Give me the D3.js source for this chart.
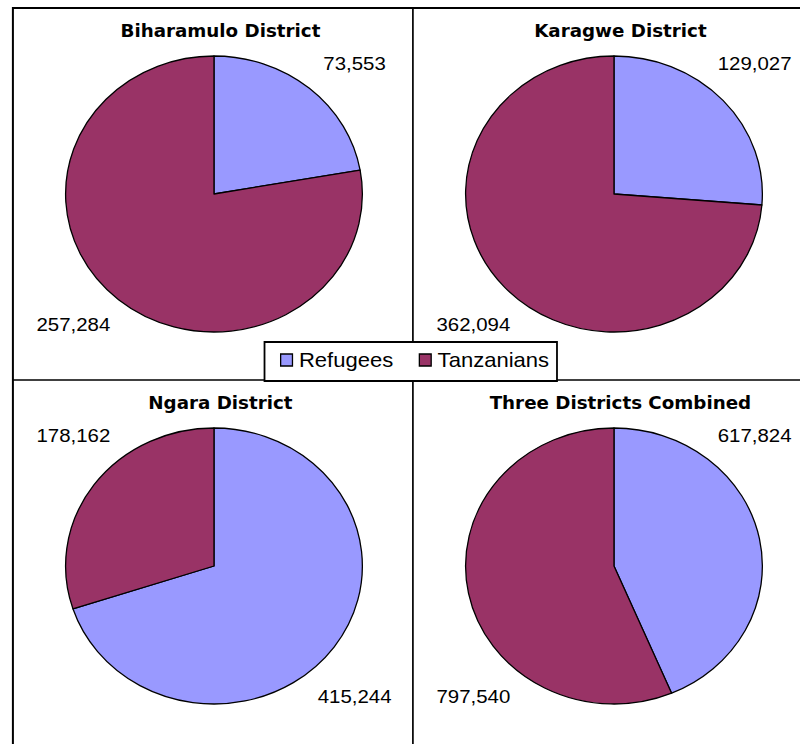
<!DOCTYPE html>
<html>
<head>
<meta charset="utf-8">
<script src="https://cdn.jsdelivr.net/npm/d3@7"></script>
<style>
  body { margin: 0; background: #fff; }
  svg { display: block; }
  text { fill: #000; }
</style>
</head>
<body>
<svg id="chart"></svg>
<script>
// values
var districts = ["Biharamulo District", "Karagwe District", "Ngara District", "Three Districts Combined"];
var seriesNames = ["Refugees", "Tanzanians"];
var refugees = [73553, 129027, 415244, 617824];
var tanzanians = [257284, 362094, 178162, 797540];
var seriesColors = ["#9999FF", "#993366"];

var width = 800, height = 744;
// the picture is a square chart stretched wide, so draw in 744 units and stretch
var sx = width / 744;

var svg = d3.select("#chart")
    .attr("width", width)
    .attr("height", height);

var g = svg.append("g")
    .attr("transform", "scale(" + sx + ",1)");

// 2x2 grid of square panels
var col = d3.scaleBand().domain([0, 1]).range([12, 756]);
var row = d3.scaleBand().domain([0, 1]).range([8, 752]);
var panel = col.bandwidth();

var r = 138;
var pie = d3.pie().sort(null).value(function(d) { return d.value; });
var arc = d3.arc().innerRadius(0).outerRadius(r);
var labelArc = d3.arc().innerRadius(r * 1.34).outerRadius(r * 1.34);
var fmt = d3.format(",");

// frame lines
g.append("rect")
    .attr("x", col(0)).attr("y", row(0))
    .attr("width", panel * 2).attr("height", panel * 2)
    .attr("fill", "none").attr("stroke", "#000").attr("stroke-width", 2)
    .attr("vector-effect", "non-scaling-stroke");
g.append("line")
    .attr("x1", col(1)).attr("x2", col(1))
    .attr("y1", row(0)).attr("y2", row(1) + panel)
    .attr("stroke", "#000").attr("stroke-width", 1.7)
    .attr("vector-effect", "non-scaling-stroke");
g.append("line")
    .attr("x1", col(0)).attr("x2", col(1) + panel)
    .attr("y1", row(1)).attr("y2", row(1))
    .attr("stroke", "#000").attr("stroke-width", 1.7)
    .attr("vector-effect", "non-scaling-stroke");

districts.forEach(function(name, i) {
  var x0 = col(i % 2), y0 = row(Math.floor(i / 2));
  var cx = x0 + 187, cy = y0 + 186;
  var data = [
    {key: seriesNames[0], value: refugees[i], color: seriesColors[0]},
    {key: seriesNames[1], value: tanzanians[i], color: seriesColors[1]}
  ];

  var cell = g.append("g").attr("class", "panel");

  cell.append("text")
      .attr("x", x0 + 193)
      .attr("y", y0 + 29)
      .attr("text-anchor", "middle")
      .style("font-family", "'DejaVu Sans', Verdana, sans-serif")
      .style("font-weight", "bold")
      .style("font-size", "17px")
      .text(name);

  var pieG = cell.append("g")
      .attr("transform", "translate(" + cx + "," + cy + ")");

  var arcs = pie(data);

  pieG.selectAll("path")
      .data(arcs)
    .enter().append("path")
      .attr("d", arc)
      .attr("fill", function(d) { return d.data.color; })
      .attr("stroke", "#000")
      .attr("stroke-width", 1.3)
      .attr("stroke-linejoin", "round")
      .attr("vector-effect", "non-scaling-stroke");

  // labels sit on the diagonal of the quadrant that holds the slice middle
  pieG.selectAll(".label")
      .data(arcs)
    .enter().append("text")
      .attr("class", "label")
      .attr("transform", function(d) {
        var mid = (d.startAngle + d.endAngle) / 2;
        var a = Math.floor(mid / (Math.PI / 2)) * Math.PI / 2 + Math.PI / 4;
        return "translate(" + labelArc.centroid({startAngle: a, endAngle: a}) + ")";
      })
      .attr("text-anchor", "middle")
      .attr("dy", "0.35em")
      .style("font-family", "'Liberation Sans', Arial, sans-serif")
      .style("font-size", "19px")
      .text(function(d) { return fmt(d.data.value); });
});

// legend across the middle
var legX = d3.scaleBand().domain(seriesNames).range([261, 519]);
var legend = g.append("g").attr("class", "legend");
legend.append("rect")
    .attr("x", 246).attr("y", 342)
    .attr("width", 272).attr("height", 39)
    .attr("fill", "#fff").attr("stroke", "#000").attr("stroke-width", 1.8)
    .attr("vector-effect", "non-scaling-stroke");

var items = legend.selectAll(".item")
    .data(seriesNames)
  .enter().append("g")
    .attr("class", "item")
    .attr("transform", function(d) { return "translate(" + legX(d) + ",0)"; });

items.append("rect")
    .attr("x", 0).attr("y", 354)
    .attr("width", 11).attr("height", 12)
    .attr("fill", function(d, i) { return seriesColors[i]; })
    .attr("stroke", "#000").attr("stroke-width", 1.3)
    .attr("vector-effect", "non-scaling-stroke");

items.append("text")
    .attr("x", 17).attr("y", 367)
    .style("font-family", "'Liberation Sans', Arial, sans-serif")
    .style("font-size", "20.5px")
    .text(function(d) { return d; });
</script>
</body>
</html>
